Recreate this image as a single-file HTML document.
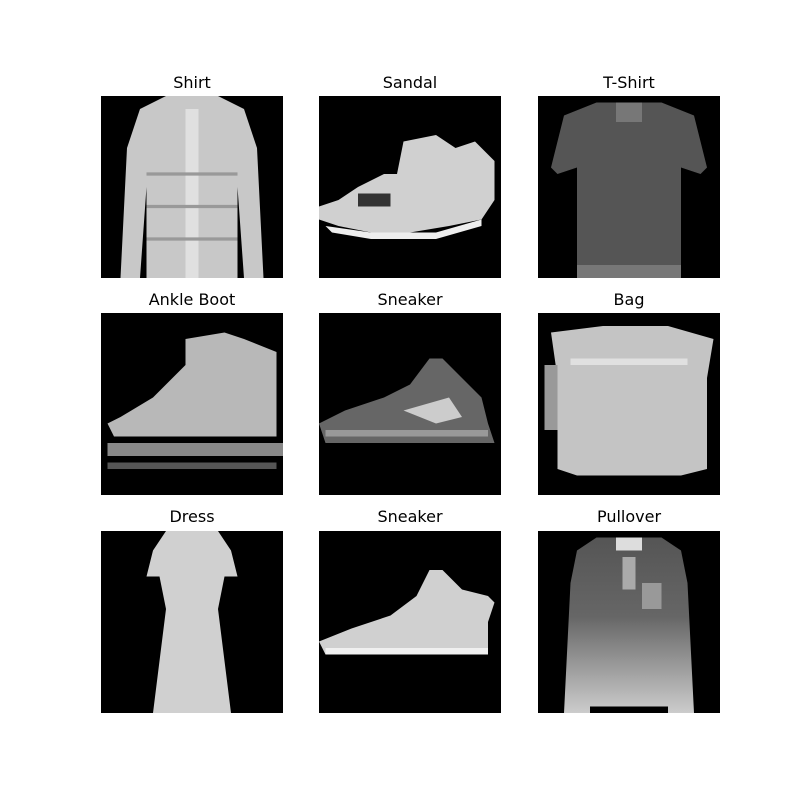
<!DOCTYPE html>
<html><head><meta charset="utf-8"><style>
html,body{margin:0;padding:0;background:#fff;}
#fig{position:relative;width:800px;height:800px;background:#fff;font-family:"DejaVu Sans","Liberation Sans",sans-serif;}
.title{position:absolute;width:182px;text-align:center;font-size:16px;color:#000;}
svg.img{position:absolute;width:182px;height:182px;}
</style></head><body>
<div id="fig">

<div class="title" style="left:101px;top:73px">Shirt</div>
<svg class="img" style="left:101px;top:96px" viewBox="0 0 28 28" preserveAspectRatio="none">
<rect width="28" height="28" fill="#000"/>
<polygon points="10,0 18,0 22,2 24,8 25,28 22,28 21,14 21,28 7,28 7,14 6,28 3,28 4,8 6,2" fill="#c8c8c8"/>
<rect x="13" y="2" width="2" height="26" fill="#e0e0e0"/>
<g stroke="#999" stroke-width="0.5"><line x1="7" y1="12" x2="21" y2="12"/><line x1="7" y1="17" x2="21" y2="17"/><line x1="7" y1="22" x2="21" y2="22"/></g>
</svg>

<div class="title" style="left:319px;top:73px">Sandal</div>
<svg class="img" style="left:319px;top:96px" viewBox="0 0 28 28" preserveAspectRatio="none">
<rect width="28" height="28" fill="#000"/>
<polygon points="13,7 18,6 21,8 24,7 27,10 27,16 25,19 20,20 14,21 8,21 3,20 0,19 0,17 3,16 6,14 10,12 12,12" fill="#d0d0d0"/>
<polygon points="1,20 8,21 18,21 25,19 25,20 18,22 8,22 2,21" fill="#eee"/>
<rect x="6" y="15" width="5" height="2" fill="#333"/>
</svg>

<div class="title" style="left:538px;top:73px">T-Shirt</div>
<svg class="img" style="left:538px;top:96px" viewBox="0 0 28 28" preserveAspectRatio="none">
<rect width="28" height="28" fill="#000"/>
<polygon points="9,1 19,1 24,3 26,11 25,12 22,11 22,28 6,28 6,11 3,12 2,11 4,3" fill="#555"/>
<rect x="12" y="1" width="4" height="3" fill="#777"/>
<rect x="6" y="26" width="16" height="2" fill="#777"/>
</svg>

<div class="title" style="left:101px;top:290px">Ankle Boot</div>
<svg class="img" style="left:101px;top:313px" viewBox="0 0 28 28" preserveAspectRatio="none">
<rect width="28" height="28" fill="#000"/>
<polygon points="13,4 19,3 22,4 27,6 27,19 20,19 10,19 2,19 1,17 3,16 8,13 11,10 13,8" fill="#b8b8b8"/>
<rect x="1" y="20" width="27" height="2" fill="#888"/>
<rect x="1" y="23" width="26" height="1" fill="#555"/>
</svg>

<div class="title" style="left:319px;top:290px">Sneaker</div>
<svg class="img" style="left:319px;top:313px" viewBox="0 0 28 28" preserveAspectRatio="none">
<rect width="28" height="28" fill="#000"/>
<polygon points="17,7 19,7 22,10 25,13 26,17 27,20 25,20 18,20 8,20 1,20 0,17 4,15 10,13 14,11" fill="#666"/>
<polygon points="13,15 20,13 22,16 18,17" fill="#ccc"/>
<rect x="1" y="18" width="25" height="1" fill="#999"/>
</svg>

<div class="title" style="left:538px;top:290px">Bag</div>
<svg class="img" style="left:538px;top:313px" viewBox="0 0 28 28" preserveAspectRatio="none">
<rect width="28" height="28" fill="#000"/>
<polygon points="2,3 10,2 20,2 27,4 26,10 26,24 22,25 6,25 3,24 3,10" fill="#c4c4c4"/>
<rect x="1" y="8" width="2" height="10" fill="#999"/>
<rect x="5" y="7" width="18" height="1" fill="#e0e0e0"/>
</svg>

<div class="title" style="left:101px;top:507px">Dress</div>
<svg class="img" style="left:101px;top:531px" viewBox="0 0 28 28" preserveAspectRatio="none">
<rect width="28" height="28" fill="#000"/>
<polygon points="10,0 18,0 20,3 21,7 19,7 18,12 20,28 8,28 10,12 9,7 7,7 8,3" fill="#d0d0d0"/>
</svg>

<div class="title" style="left:319px;top:507px">Sneaker</div>
<svg class="img" style="left:319px;top:531px" viewBox="0 0 28 28" preserveAspectRatio="none">
<rect width="28" height="28" fill="#000"/>
<polygon points="17,6 19,6 22,9 26,10 27,11 26,14 26,19 20,19 10,19 1,19 0,17 5,15 11,13 15,10" fill="#d0d0d0"/>
<rect x="1" y="18" width="25" height="1" fill="#f0f0f0"/>
</svg>

<div class="title" style="left:538px;top:507px">Pullover</div>
<svg class="img" style="left:538px;top:531px" viewBox="0 0 28 28" preserveAspectRatio="none">
<defs><linearGradient id="pg" x1="0" y1="0" x2="0" y2="1"><stop offset="0" stop-color="#555"/><stop offset="0.45" stop-color="#666"/><stop offset="1" stop-color="#ccc"/></linearGradient></defs>
<rect width="28" height="28" fill="#000"/>
<polygon points="9,1 19,1 22,3 23,8 24,28 20,28 20,27 8,27 8,28 4,28 5,8 6,3" fill="url(#pg)"/>
<rect x="12" y="1" width="4" height="2" fill="#ddd"/>
<rect x="13" y="4" width="2" height="5" fill="#aaa"/>
<rect x="16" y="8" width="3" height="4" fill="#999"/>
</svg>

</div>
</body></html>
